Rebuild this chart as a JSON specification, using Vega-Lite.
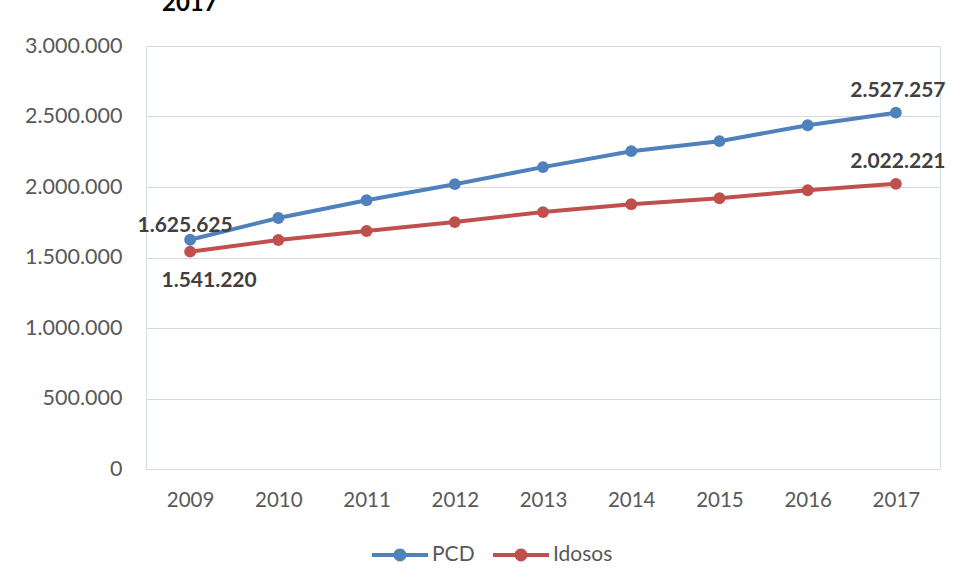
{
  "$schema": "https://vega.github.io/schema/vega-lite/v6.json",
  "width": 794,
  "height": 423,
  "autosize": {"type": "none"},
  "padding": {"left": 146, "top": 46, "right": 18, "bottom": 117},
  "background": "white",
  "config": {
    "locale": {"number": {"decimal": ",", "thousands": ".", "grouping": [3], "currency": ["R$", ""]}},
    "view": {"stroke": "#D5DFEC", "strokeWidth": 1},
    "font": "Lato"
  },
  "title": {
    "text": "2017",
    "anchor": "start",
    "frame": "group",
    "dx": 16,
    "offset": 0,
    "baseline": "alphabetic",
    "font": "Lato",
    "fontSize": 24,
    "fontWeight": "bold",
    "color": "#000000"
  },
  "data": {
    "values": [
      {"ano": "2009", "serie": "PCD", "valor": 1625625},
      {"ano": "2010", "serie": "PCD", "valor": 1780000},
      {"ano": "2011", "serie": "PCD", "valor": 1906000},
      {"ano": "2012", "serie": "PCD", "valor": 2020000},
      {"ano": "2013", "serie": "PCD", "valor": 2141000},
      {"ano": "2014", "serie": "PCD", "valor": 2254000},
      {"ano": "2015", "serie": "PCD", "valor": 2325000},
      {"ano": "2016", "serie": "PCD", "valor": 2438000},
      {"ano": "2017", "serie": "PCD", "valor": 2527257},
      {"ano": "2009", "serie": "Idosos", "valor": 1541220},
      {"ano": "2010", "serie": "Idosos", "valor": 1624000},
      {"ano": "2011", "serie": "Idosos", "valor": 1688000},
      {"ano": "2012", "serie": "Idosos", "valor": 1751000},
      {"ano": "2013", "serie": "Idosos", "valor": 1822000},
      {"ano": "2014", "serie": "Idosos", "valor": 1878000},
      {"ano": "2015", "serie": "Idosos", "valor": 1920000},
      {"ano": "2016", "serie": "Idosos", "valor": 1977000},
      {"ano": "2017", "serie": "Idosos", "valor": 2022221}
    ]
  },
  "encoding": {
    "x": {
      "field": "ano", "type": "ordinal", "title": null,
      "scale": {"type": "point", "padding": 0.5},
      "axis": {"labelAngle": 0, "ticks": false, "domain": false, "labelPadding": 21,
               "labelFont": "Lato", "labelFontSize": 20.5, "labelColor": "#595959", "grid": false}
    },
    "y": {
      "field": "valor", "type": "quantitative", "title": null,
      "scale": {"domain": [0, 3000000], "nice": false},
      "axis": {"values": [0, 500000, 1000000, 1500000, 2000000, 2500000, 3000000],
               "format": ",d", "ticks": false, "domain": false, "labelPadding": 24,
               "labelFont": "Lato", "labelFontSize": 21.5, "labelColor": "#595959",
               "gridColor": "#D9D9D9", "gridWidth": 1}
    },
    "color": {
      "field": "serie", "type": "nominal",
      "scale": {"domain": ["PCD", "Idosos"], "range": ["#4F81BD", "#C0504D"]},
      "legend": {
        "title": null, "orient": "none", "legendX": 226, "legendY": 481, "direction": "horizontal",
        "symbolType": "M-1,-0.07H1V0.07H-1Z M-0.23,0A0.23,0.23 0 1,1 0.23,0A0.23,0.23 0 1,1 -0.23,0Z",
        "symbolSize": 3136, "symbolStrokeWidth": 0, "labelOffset": 4,
        "labelFont": "Lato", "labelFontSize": 21, "labelColor": "#595959", "columnPadding": 18,
        "encode": {"symbols": {"update": {"fill": {"scale": "color", "field": "value"}, "strokeWidth": {"value": 0}, "opacity": {"value": 1}}}}
      }
    }
  },
  "layer": [
    {"mark": {"type": "line", "strokeWidth": 4}},
    {"mark": {"type": "point", "filled": true, "size": 140, "opacity": 1}},
    {
      "transform": [{"filter": "datum.serie == 'PCD' && datum.ano == '2009'"}],
      "mark": {"type": "text", "dx": -5, "dy": -14, "font": "Lato", "fontSize": 21, "fontWeight": "bold", "color": "#404040"},
      "encoding": {"text": {"field": "valor", "type": "quantitative", "format": ",d"}, "color": {"value": "#404040"}}
    },
    {
      "transform": [{"filter": "datum.serie == 'Idosos' && datum.ano == '2009'"}],
      "mark": {"type": "text", "dx": 19, "dy": 29, "font": "Lato", "fontSize": 21, "fontWeight": "bold", "color": "#404040"},
      "encoding": {"text": {"field": "valor", "type": "quantitative", "format": ",d"}, "color": {"value": "#404040"}}
    },
    {
      "transform": [{"filter": "datum.ano == '2017'"}],
      "mark": {"type": "text", "dx": 2, "dy": -22, "font": "Lato", "fontSize": 21, "fontWeight": "bold", "color": "#404040"},
      "encoding": {"text": {"field": "valor", "type": "quantitative", "format": ",d"}, "color": {"value": "#404040"}}
    }
  ]
}
